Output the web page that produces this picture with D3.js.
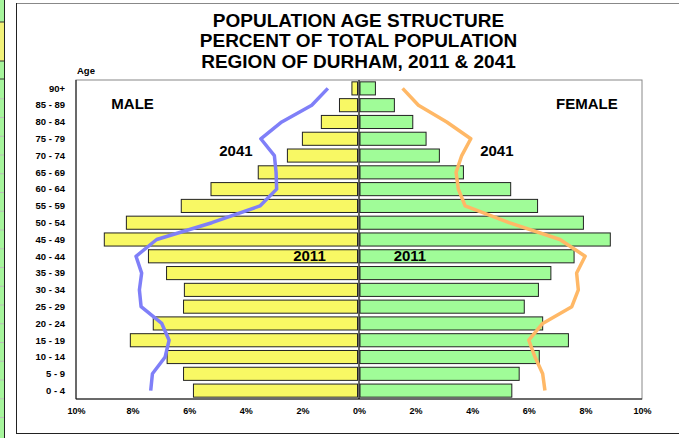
<!DOCTYPE html>
<html>
<head>
<meta charset="utf-8">
<script src="https://cdn.jsdelivr.net/npm/d3@7"></script>
<style>
  body { margin: 0; background: #fff; }
  svg text { font-family: "Liberation Sans", Arial, sans-serif; font-weight: bold; }
</style>
</head>
<body>
<svg id="chart" width="679" height="438"></svg>
<script>
// age groups, top to bottom
var ages = ["90+", "85 - 89", "80 - 84", "75 - 79", "70 - 74", "65 - 69", "60 - 64", "55 - 59",
  "50 - 54", "45 - 49", "40 - 44", "35 - 39", "30 - 34", "25 - 29", "20 - 24", "15 - 19",
  "10 - 14", "5 - 9", "0 - 4"];

// percent of total population, 2011 (bars)
var male2011 = [0.25, 0.69, 1.33, 2.0, 2.53, 3.56, 5.23, 6.28, 8.22, 9.0, 7.44, 6.8, 6.17, 6.2, 7.27, 8.08, 6.78, 6.2, 5.85];
var female2011 = [0.58, 1.25, 1.9, 2.37, 2.84, 3.69, 5.36, 6.31, 7.93, 8.88, 7.6, 6.78, 6.34, 5.84, 6.49, 7.4, 6.37, 5.66, 5.4];

// 2041 projection (lines)
var male2041 = [1.1, 1.67, 2.73, 3.47, 2.99, 2.93, 2.91, 3.5, 5.2, 7.15, 7.88, 7.68, 7.76, 7.7, 6.97, 6.71, 6.85, 7.3, 7.36];
var female2041 = [1.54, 2.1, 3.1, 3.95, 3.63, 3.43, 3.51, 3.75, 5.3, 7.1, 7.99, 7.69, 7.75, 7.52, 6.49, 6.0, 6.22, 6.49, 6.57];

var xTicks = [-10, -8, -6, -4, -2, 0, 2, 4, 6, 8, 10];
var titleLines = ["POPULATION AGE STRUCTURE", "PERCENT OF TOTAL POPULATION", "REGION OF DURHAM, 2011 & 2041"];

var svg = d3.select("#chart");

// spreadsheet strip on the far left
var strip = svg.append("g");
strip.append("rect").attr("x", 0).attr("y", 0).attr("width", 4.5).attr("height", 438).attr("fill", "#a6f59c");
strip.append("rect").attr("x", 0).attr("y", 22).attr("width", 4.5).attr("height", 39).attr("fill", "#f2f27a");
[22, 61, 79].forEach(function(y) {
  strip.append("line").attr("x1", 0).attr("x2", 4.5).attr("y1", y).attr("y2", y).attr("stroke", "#333");
});
d3.range(1, 19).forEach(function(i) {
  var y = 80 + i * 18.75;
  strip.append("line").attr("x1", 0).attr("x2", 4.5).attr("y1", y).attr("y2", y).attr("stroke", "#bbb");
});
strip.append("line").attr("x1", 4.5).attr("x2", 4.5).attr("y1", 0).attr("y2", 438).attr("stroke", "#222");

// outer frame
svg.append("line").attr("x1", 16).attr("x2", 679).attr("y1", 3.5).attr("y2", 3.5).attr("stroke", "#888");
svg.append("line").attr("x1", 16.5).attr("x2", 16.5).attr("y1", 3).attr("y2", 434).attr("stroke", "#222");
svg.append("line").attr("x1", 16).attr("x2", 679).attr("y1", 433.5).attr("y2", 433.5).attr("stroke", "#222");

var x = d3.scaleLinear().domain([-10, 10]).range([76, 642]);
var y = d3.scaleBand().domain(ages).range([80, 399]).paddingInner(0.22).paddingOuter(0.11);
var yc = function(i) { return y(ages[i]) + y.bandwidth() / 2; };

// title
svg.append("g").selectAll("text")
  .data(titleLines)
  .enter()
  .append("text")
  .attr("x", 358.5)
  .attr("y", (d, i) => 26.5 + i * 20.6)
  .attr("text-anchor", "middle")
  .style("font-size", "19px")
  .text(d => d);

// plot frame
svg.append("rect")
  .attr("x", x(-10)).attr("y", 80)
  .attr("width", x(10) - x(-10)).attr("height", 319)
  .attr("fill", "none").attr("stroke", "#888");
svg.append("path")
  .attr("d", "M" + x(-10) + ",80V399H" + x(10))
  .attr("fill", "none").attr("stroke", "#111");

// bars
svg.append("g").selectAll("rect")
  .data(male2011)
  .enter()
  .append("rect")
  .attr("x", d => x(-d))
  .attr("y", (d, i) => y(ages[i]))
  .attr("width", d => x(0) - x(-d) - 1.5)
  .attr("height", y.bandwidth())
  .attr("fill", "#f8f864")
  .attr("stroke", "#222");

svg.append("g").selectAll("rect")
  .data(female2011)
  .enter()
  .append("rect")
  .attr("x", x(0) + 1)
  .attr("y", (d, i) => y(ages[i]))
  .attr("width", d => x(d) - x(0) - 1)
  .attr("height", y.bandwidth())
  .attr("fill", "#a0fc98")
  .attr("stroke", "#222");

// zero line
svg.append("line")
  .attr("x1", x(0)).attr("x2", x(0))
  .attr("y1", 80).attr("y2", 399)
  .attr("stroke", "#000").attr("stroke-width", 1.2);

// 2041 lines
var line = d3.line()
  .x(d => x(d[0]))
  .y(d => yc(d[1]));

svg.append("path")
  .datum(male2041.map((v, i) => [-v, i]))
  .attr("d", line)
  .attr("fill", "none")
  .attr("stroke", "#7f7ff8")
  .attr("stroke-width", 3.5)
  .attr("stroke-linejoin", "round");

svg.append("path")
  .datum(female2041.map((v, i) => [v, i]))
  .attr("d", line)
  .attr("fill", "none")
  .attr("stroke", "#ffb866")
  .attr("stroke-width", 3.5)
  .attr("stroke-linejoin", "round");

// age labels
svg.append("g").selectAll("text")
  .data(ages)
  .enter()
  .append("text")
  .attr("x", 65)
  .attr("y", (d, i) => yc(i) + 3.3)
  .attr("text-anchor", "end")
  .style("font-size", "9.5px")
  .text(d => d);

svg.append("text")
  .attr("x", 77).attr("y", 74)
  .style("font-size", "9.5px")
  .text("Age");

// x axis
var xAxis = d3.axisBottom(x)
  .tickValues(xTicks)
  .tickSize(0)
  .tickPadding(0)
  .tickFormat(d => Math.abs(d) + "%");

svg.append("g")
  .attr("transform", "translate(0,408)")
  .call(xAxis)
  .call(g => g.select(".domain").remove())
  .selectAll("text")
  .style("font-family", "'Liberation Sans', Arial, sans-serif")
  .style("font-weight", "bold")
  .style("font-size", "9px")
  .attr("fill", "#000");

// annotations
var notes = [
  { t: "MALE", v: -8.0, row: 1, dy: 4 },
  { t: "FEMALE", v: 8.05, row: 1, dy: 4 },
  { t: "2041", v: -4.35, row: 4, dy: 0 },
  { t: "2041", v: 4.87, row: 4, dy: 0 },
  { t: "2011", v: -1.75, row: 10, dy: 4.3 },
  { t: "2011", v: 1.8, row: 10, dy: 4.3 }
];
svg.append("g").selectAll("text")
  .data(notes)
  .enter()
  .append("text")
  .attr("x", d => x(d.v))
  .attr("y", d => yc(d.row) + d.dy)
  .attr("text-anchor", "middle")
  .style("font-size", "15px")
  .text(d => d.t);
</script>
</body>
</html>
